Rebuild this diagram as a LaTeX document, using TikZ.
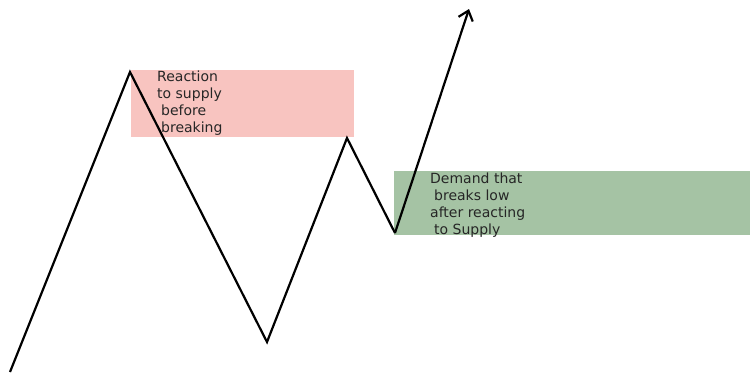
\documentclass[tikz,border=0pt]{standalone}
\usepackage{fontspec}
\setmainfont{DejaVu Sans}
\usetikzlibrary{arrows.meta}

\definecolor{supplyzone}{HTML}{F8C4C0}
\definecolor{demandzone}{HTML}{A5C3A4}

\tikzset{
  zonetext/.style={anchor=north west, align=left, inner sep=0pt,
    font=\fontsize{14}{17}\selectfont, text=black!85},
  price/.style={line width=2.2pt, line join=miter}
}

\begin{document}
\begin{tikzpicture}[x=1pt, y=-1pt]
  \useasboundingbox (0, 0) rectangle (750, 376);

  % zones
  \fill[supplyzone] (131, 70) rectangle (354, 137);
  \fill[demandzone] (394, 171) rectangle (750, 235);

  % price swings
  \coordinate (S)  at (10, 372);
  \coordinate (H1) at (130, 72);
  \coordinate (L1) at (267, 342);
  \coordinate (H2) at (347, 138);
  \coordinate (L2) at (395, 233);
  \coordinate (T)  at (469, 9);

  \draw[price] (S) -- (H1) -- (L1) -- (H2) -- (L2);
  \draw[price, -{Straight Barb[length=9pt, width=15pt]}] (L2) -- (T);

  % labels
  \node[zonetext] (supply) at (157, 71)
    {Reaction\\to supply\\\hspace{4pt}before\\\hspace{4pt}breaking};
  \node[zonetext] (demand) at (430, 173)
    {Demand that\\\hspace{4pt}breaks low\\after reacting\\\hspace{4pt}to Supply};
\end{tikzpicture}
\end{document}
